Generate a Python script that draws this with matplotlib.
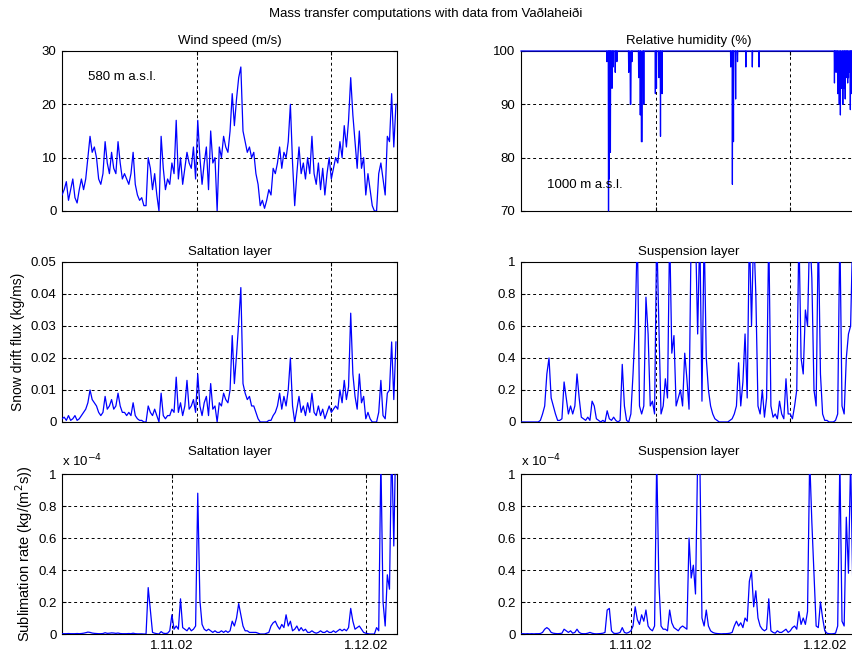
import numpy as np
import matplotlib
matplotlib.use("Agg")
import matplotlib.pyplot as plt

plt.rcParams['font.family'] = ['Liberation Sans', 'DejaVu Sans']
plt.rcParams['font.size'] = 9.5

# hourly record sampled every 8 hours, starting 15.10.02 00:00
hours = np.arange(0, 1248, 8)

# wind speed (m/s) at 580 m a.s.l.
wind = [3, 4, 5.5, 2, 4, 6, 2.5, 1.5, 4, 6,
        4, 6, 10, 14, 11, 12, 10, 6, 5, 7,
        13, 9, 7, 11, 8, 7, 13, 9, 6, 7,
        6, 5, 7, 11, 5, 3, 2, 2.5, 1, 1,
        10, 8, 4, 7, 3, 0, 14, 8, 4, 6,
        5, 9, 7, 17, 6, 10, 5, 8, 11, 9,
        8, 12, 6, 17, 10, 5, 9, 12, 4, 15,
        9, 10, 0, 12, 10, 14, 12, 11, 15, 22,
        16, 21, 25, 27, 15, 13, 11, 12, 10, 11,
        7, 5, 1, 2, 0.5, 2, 4, 3, 8, 7,
        9, 12, 8, 11, 10, 13, 20, 9, 1, 7,
        12, 7, 9, 6, 10, 7, 14, 7, 5, 9,
        4, 8, 3, 7, 10, 6, 8, 10, 9, 13,
        10, 16, 12, 17, 25, 18, 13, 8, 15, 8,
        10, 3, 7, 4, 1, 0, 0, 7, 9, 6,
        3, 14, 13, 22, 12, 20]

# relative humidity (%) at 1000 m a.s.l., hours of the readings around each dip
rh_hours = [0, 318, 319, 320, 324, 325, 326, 327, 328, 329, 331, 332, 333,
            337, 338, 339, 341, 342, 343, 349, 350, 351, 355, 356, 357,
            399, 400, 401, 405, 406, 408, 409, 411, 412, 413,
            436, 437, 438, 442, 443, 444, 446, 447, 450, 451, 455, 456, 457,
            498, 499, 500, 502, 503, 504, 511, 512, 513, 517, 518, 519,
            523, 524, 525,
            778, 779, 780, 784, 785, 786, 788, 789, 790, 796, 797, 798,
            803, 804, 805, 834, 835, 836, 858, 859, 860, 883, 884, 885,
            1163, 1164, 1165, 1166, 1167, 1169, 1170, 1171, 1175, 1176, 1177,
            1179, 1180, 1182, 1183, 1185, 1186, 1187, 1190, 1191, 1194, 1195,
            1196, 1198, 1199, 1200, 1201, 1202, 1204, 1205, 1206, 1207, 1208,
            1210, 1211, 1212, 1213, 1214, 1216, 1217, 1219, 1220, 1222, 1223,
            1224, 1226, 1227, 1228, 1229, 1232, 1233, 1236, 1237, 1244]
rh_values = [100, 100, 98, 100, 100, 70, 100, 100, 76, 100, 100, 81, 100,
             100, 93, 100, 100, 97, 100, 100, 96, 100, 100, 98, 100,
             100, 96, 100, 100, 90, 90, 100, 100, 98, 100,
             100, 95, 100, 100, 88, 100, 100, 83, 83, 100, 100, 90, 100,
             100, 92, 100, 100, 93, 100, 100, 95, 100, 100, 84, 100,
             100, 92, 100,
             100, 97, 100, 100, 75, 100, 100, 83, 100, 100, 91, 100,
             100, 98, 100, 100, 97, 100, 100, 97, 100, 100, 97, 100,
             100, 94, 100, 97, 100, 100, 96, 100, 100, 92, 100,
             95, 100, 90, 100, 100, 88, 100, 93, 100, 100, 90,
             100, 96, 100, 100, 93, 100, 91, 100, 100, 95, 100,
             97, 100, 100, 94, 100, 95, 100, 96, 100, 100, 89,
             100, 92, 100, 97, 100, 95, 100, 98, 100, 100]

# snow drift flux, saltation layer (kg/ms)
drift_salt = [0.001, 0.0015, 0.0005, 0.002, 0.0005, 0.001, 0.002, 0.0005, 0.001, 0.002,
              0.003, 0.004, 0.006, 0.010, 0.007, 0.006, 0.005, 0.003, 0.002, 0.003,
              0.008, 0.004, 0.005, 0.007, 0.004, 0.005, 0.009, 0.005, 0.003, 0.003,
              0.002, 0.003, 0.002, 0.006, 0.002, 0.001, 0.0005, 0.0005, 0.0, 0.0,
              0.005, 0.003, 0.002, 0.004, 0.002, 0.0, 0.009, 0.002, 0.001, 0.002,
              0.002, 0.004, 0.003, 0.014, 0.003, 0.006, 0.002, 0.005, 0.013, 0.004,
              0.005, 0.007, 0.003, 0.015, 0.005, 0.002, 0.006, 0.008, 0.002, 0.012,
              0.004, 0.005, 0.0, 0.006, 0.005, 0.009, 0.007, 0.006, 0.010, 0.027,
              0.012, 0.021, 0.031, 0.042, 0.012, 0.009, 0.007, 0.008, 0.005, 0.005,
              0.003, 0.001, 0.0, 0.0, 0.0, 0.0, 0.0005, 0.0005, 0.002, 0.003,
              0.005, 0.009, 0.004, 0.008, 0.005, 0.010, 0.020, 0.005, 0.0, 0.004,
              0.008, 0.003, 0.005, 0.002, 0.006, 0.003, 0.009, 0.003, 0.002, 0.005,
              0.002, 0.004, 0.001, 0.003, 0.005, 0.003, 0.004, 0.005, 0.004, 0.010,
              0.006, 0.013, 0.007, 0.011, 0.034, 0.015, 0.008, 0.004, 0.015, 0.006,
              0.008, 0.001, 0.003, 0.001, 0.0, 0.0, 0.0, 0.003, 0.013, 0.002,
              0.001, 0.009, 0.010, 0.025, 0.007, 0.025]

# snow drift flux, suspension layer (kg/ms)
drift_susp = [0, 0, 0, 0, 0, 0, 0, 0, 0, 0.01,
              0.05, 0.1, 0.3, 0.4, 0.15, 0.1, 0.05, 0.01, 0.01, 0.02,
              0.25, 0.15, 0.05, 0.1, 0.05, 0.1, 0.3, 0.15, 0.03, 0.02,
              0.01, 0.03, 0.01, 0.13, 0.1, 0.02, 0.01, 0.0, 0.01, 0.0,
              0.07, 0.02, 0.01, 0.03, 0.01, 0.0, 0.01, 0.36, 0.1, 0.01,
              0.0, 0.05, 0.3, 0.6, 1.2, 0.1, 0.05, 0.1, 0.78, 0.55,
              0.1, 0.13, 0.05, 1.2, 0.6, 0.05, 0.1, 0.27, 0.15, 1.2,
              0.43, 0.54, 0.1, 0.15, 0.2, 0.1, 0.43, 0.27, 0.08, 1.2,
              1.2, 1.2, 0.55, 1.2, 0.13, 1.2, 0.4, 0.2, 0.1, 0.05,
              0.02, 0.01, 0.0, 0.0, 0.0, 0.0, 0.0, 0.01, 0.02, 0.05,
              0.1, 0.37, 0.1, 0.25, 0.55, 0.15, 1.2, 0.6, 1.2, 0.8,
              0.1, 0.05, 0.2, 0.03, 0.15, 1.2, 0.1, 0.03, 0.05, 0.02,
              0.13, 0.05, 0.02, 0.27, 0.05, 0.05, 0.02, 0.1, 0.2, 1.2,
              0.4, 0.3, 0.7, 0.6, 1.2, 0.9, 0.2, 0.1, 1.2, 0.3,
              0.05, 0.01, 0.01, 0.0, 0.0, 0.0, 0.01, 0.05, 1.2, 0.1,
              0.05, 0.4, 0.55, 0.6, 1.2, 0.5]

# sublimation rate, saltation layer (x 1e-4 kg/(m2 s))
subl_salt = [0.002, 0.002, 0.002, 0.003, 0.002, 0.002, 0.002, 0.003, 0.002, 0.003,
             0.005, 0.008, 0.012, 0.01, 0.006, 0.004, 0.003, 0.002, 0.002, 0.003,
             0.008, 0.004, 0.005, 0.007, 0.006, 0.004, 0.006, 0.003, 0.002, 0.002,
             0.002, 0.003, 0.002, 0.005, 0.002, 0.001, 0.001, 0.001, 0.0, 0.0,
             0.29, 0.15, 0.01, 0.005, 0.002, 0.0, 0.015, 0.005, 0.003, 0.005,
             0.02, 0.12, 0.03, 0.05, 0.03, 0.22, 0.04, 0.03, 0.02, 0.04,
             0.02, 0.03, 0.05, 0.88, 0.21, 0.06, 0.03, 0.02, 0.03, 0.02,
             0.01, 0.02, 0.01, 0.01, 0.02, 0.01, 0.02, 0.01, 0.02, 0.08,
             0.05, 0.1, 0.19, 0.12, 0.05, 0.02, 0.02, 0.01, 0.01, 0.01,
             0.01, 0.005, 0.0, 0.0, 0.0, 0.005, 0.01, 0.05, 0.07, 0.08,
             0.05, 0.03, 0.06, 0.04, 0.12, 0.05, 0.08, 0.02, 0.03, 0.05,
             0.02, 0.04, 0.02, 0.03, 0.01, 0.01, 0.02, 0.01, 0.005, 0.01,
             0.02, 0.01, 0.01, 0.02, 0.01, 0.01, 0.02, 0.01, 0.02, 0.03,
             0.02, 0.03, 0.02, 0.04, 0.16, 0.08, 0.03, 0.04, 0.05, 0.03,
             0.01, 0.005, 0.002, 0.0, 0.0, 0.0, 0.04, 0.02, 1.1, 0.2,
             0.05, 0.37, 0.28, 1.2, 0.55, 1.3]

# sublimation rate, suspension layer (x 1e-4 kg/(m2 s))
subl_susp = [0.001, 0.002, 0.001, 0.002, 0.001, 0.002, 0.001, 0.002, 0.002, 0.003,
             0.01, 0.03, 0.04, 0.03, 0.01, 0.005, 0.003, 0.002, 0.003, 0.005,
             0.03, 0.02, 0.01, 0.02, 0.005, 0.01, 0.03, 0.01, 0.003, 0.002,
             0.002, 0.005, 0.01, 0.005, 0.002, 0.001, 0.002, 0.003, 0.005, 0.01,
             0.15, 0.16, 0.02, 0.005, 0.003, 0.005, 0.01, 0.04, 0.01, 0.005,
             0.01, 0.02, 0.05, 0.17, 0.09, 0.06, 0.12, 0.08, 0.15, 0.05,
             0.03, 0.02, 0.05, 1.1, 0.32, 0.05, 0.03, 0.03, 0.02, 0.15,
             0.07, 0.04, 0.03, 0.02, 0.04, 0.05, 0.04, 0.03, 0.6, 0.35,
             0.43, 0.25, 1.1, 1.1, 0.1, 0.05, 0.15, 0.05, 0.02, 0.01,
             0.005, 0.003, 0.002, 0.001, 0.002, 0.002, 0.003, 0.005, 0.01, 0.05,
             0.08, 0.05, 0.07, 0.04, 0.1, 0.08, 0.33, 0.39, 0.17, 0.27,
             0.1, 0.05, 0.03, 0.02, 0.03, 0.22, 0.02, 0.01, 0.005, 0.02,
             0.01, 0.01, 0.02, 0.03, 0.01, 0.02, 0.04, 0.05, 0.03, 0.14,
             0.06, 0.1, 0.06, 0.14, 1.1, 0.7, 0.38, 0.05, 0.04, 0.2,
             0.1, 0.02, 0.005, 0.002, 0.001, 0.002, 0.005, 0.05, 1.1, 0.08,
             0.05, 0.73, 0.38, 1.1, 0.3, 0.1]

titles = ['Wind speed (m/s)', 'Relative humidity (%)',
          'Saltation layer', 'Suspension layer',
          'Saltation layer', 'Suspension layer']
xs = [hours, rh_hours, hours, hours, hours, hours]
series = [wind, rh_values, drift_salt, drift_susp, subl_salt, subl_susp]
ylims = [(0, 30), (70, 100), (0, 0.05), (0, 1), (0, 1), (0, 1)]
yticks = [[0, 10, 20, 30], [70, 80, 90, 100],
          [0, 0.01, 0.02, 0.03, 0.04, 0.05], [0, 0.2, 0.4, 0.6, 0.8, 1],
          [0, 0.2, 0.4, 0.6, 0.8, 1], [0, 0.2, 0.4, 0.6, 0.8, 1]]
ytlabels = [['0', '10', '20', '30'], ['70', '80', '90', '100'],
            ['0', '0.01', '0.02', '0.03', '0.04', '0.05'],
            ['0', '0.2', '0.4', '0.6', '0.8', '1'],
            ['0', '0.2', '0.4', '0.6', '0.8', '1'],
            ['0', '0.2', '0.4', '0.6', '0.8', '1']]
# grid ticks: sample index for the upper rows, dates for the bottom row
idx_ticks = [500, 1000]
date_ticks = [408, 1128]
date_labels = ['1.11.02', '1.12.02']

fig = plt.figure(figsize=(8.52, 6.52), dpi=100)
fig.suptitle('Mass transfer computations with data from Vaðlaheiði',
             y=1 - 14 / 652, va='center', fontsize=9.5)

lefts = [0.0728, 0.6115]
bottoms = [0.6764, 0.3528, 0.0276]
w, h = 0.3932, 0.2454

for k in range(6):
    row, col = k // 2, k % 2
    ax = fig.add_axes([lefts[col], bottoms[row], w, h])
    line, = ax.plot(xs[k], series[k], color='#0000ff', lw=0.9, zorder=3)
    if k == 1:
        line.set_clip_on(False)
    ax.set_xlim(0, 1244)
    ax.set_ylim(*ylims[k])
    ax.set_yticks(yticks[k])
    ax.set_yticklabels(ytlabels[k])
    if row < 2:
        ax.set_xticks(idx_ticks)
        ax.set_xticklabels([])
    else:
        ax.set_xticks(date_ticks)
        ax.set_xticklabels(date_labels)
    ax.grid(True, color='black', linestyle=(0, (3, 3)), lw=0.7)
    ax.tick_params(direction='in', length=3, top=True, right=True, pad=4)
    for s in ax.spines.values():
        s.set_linewidth(0.8)
    ax.set_title(titles[k], fontsize=9.5, pad=14 if row == 2 else 5)
    if row == 2:
        ax.text(0, 1.08, r'x 10$^{-4}$', transform=ax.transAxes,
                ha='left', va='center', fontsize=9.5)
    if k == 0:
        ax.text(0.078, 0.84, '580 m a.s.l.', transform=ax.transAxes,
                ha='left', va='center')
    if k == 1:
        ax.text(0.078, 0.16, '1000 m a.s.l.', transform=ax.transAxes,
                ha='left', va='center')
    if k == 2:
        ax.set_ylabel('Snow drift flux (kg/ms)', fontsize=10, labelpad=4)
    if k == 4:
        ax.set_ylabel('Sublimation rate (kg/(m$^2$s))', fontsize=10.5,
                      labelpad=2)

fig.savefig('out.png', dpi=100)
